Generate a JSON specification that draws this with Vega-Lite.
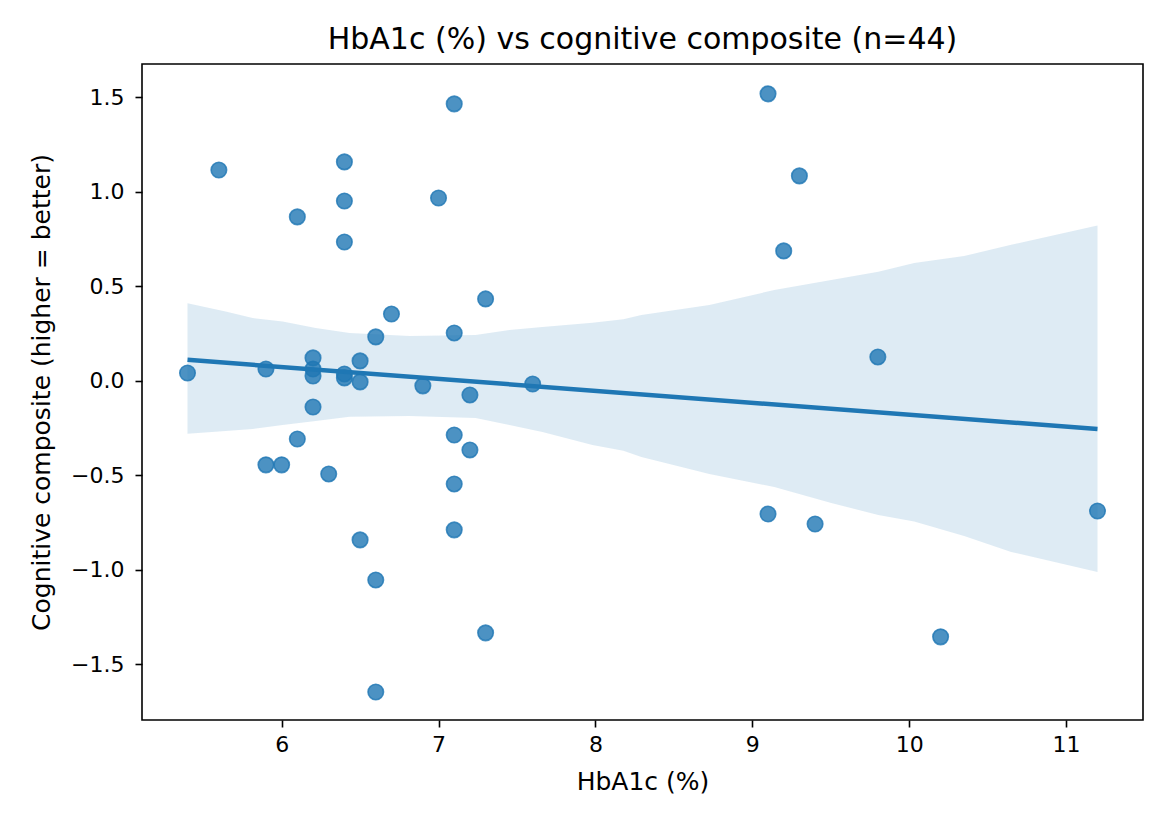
{
  "$schema": "https://vega.github.io/schema/vega-lite/v6.json",
  "autosize": {"type": "none"},
  "padding": {"left": 142, "top": 64, "right": 27, "bottom": 107},
  "width": 1001,
  "height": 656,
  "background": "white",
  "config": {
    "font": "DejaVu Sans",
    "view": {"stroke": "black", "strokeWidth": 1.6},
    "axis": {
      "grid": false,
      "domain": false,
      "tickColor": "black",
      "tickWidth": 1.6,
      "tickSize": 7,
      "labelColor": "black",
      "labelFont": "DejaVu Sans",
      "labelFontSize": 22,
      "titleFont": "DejaVu Sans",
      "titleFontSize": 25,
      "titleFontWeight": "normal",
      "titleColor": "black"
    },
    "title": {"font": "DejaVu Sans", "fontSize": 30, "fontWeight": "normal", "color": "black"}
  },
  "title": {"text": "HbA1c (%) vs cognitive composite (n=44)", "offset": 9},
  "datasets": {
    "points": [
      {"hba1c": 5.4, "cog": 0.042},
      {"hba1c": 5.6, "cog": 1.116},
      {"hba1c": 5.9, "cog": 0.063},
      {"hba1c": 5.9, "cog": -0.444},
      {"hba1c": 6.0, "cog": -0.444},
      {"hba1c": 6.1, "cog": 0.868},
      {"hba1c": 6.1, "cog": -0.307},
      {"hba1c": 6.2, "cog": 0.122},
      {"hba1c": 6.2, "cog": 0.063},
      {"hba1c": 6.2, "cog": 0.026},
      {"hba1c": 6.2, "cog": -0.138},
      {"hba1c": 6.3, "cog": -0.492},
      {"hba1c": 6.4, "cog": 1.159},
      {"hba1c": 6.4, "cog": 0.952},
      {"hba1c": 6.4, "cog": 0.735},
      {"hba1c": 6.4, "cog": 0.037},
      {"hba1c": 6.4, "cog": 0.016},
      {"hba1c": 6.5, "cog": 0.106},
      {"hba1c": 6.5, "cog": -0.005},
      {"hba1c": 6.5, "cog": -0.841},
      {"hba1c": 6.6, "cog": 0.233},
      {"hba1c": 6.6, "cog": -1.053},
      {"hba1c": 6.6, "cog": -1.646},
      {"hba1c": 6.7, "cog": 0.354},
      {"hba1c": 6.9, "cog": -0.026},
      {"hba1c": 7.0, "cog": 0.968},
      {"hba1c": 7.1, "cog": 1.466},
      {"hba1c": 7.1, "cog": 0.254},
      {"hba1c": 7.1, "cog": -0.286},
      {"hba1c": 7.1, "cog": -0.545},
      {"hba1c": 7.1, "cog": -0.788},
      {"hba1c": 7.2, "cog": -0.074},
      {"hba1c": 7.2, "cog": -0.365},
      {"hba1c": 7.3, "cog": 0.434},
      {"hba1c": 7.3, "cog": -1.333},
      {"hba1c": 7.6, "cog": -0.016},
      {"hba1c": 9.1, "cog": 1.519},
      {"hba1c": 9.1, "cog": -0.704},
      {"hba1c": 9.2, "cog": 0.688},
      {"hba1c": 9.3, "cog": 1.085},
      {"hba1c": 9.4, "cog": -0.757},
      {"hba1c": 9.8, "cog": 0.127},
      {"hba1c": 10.2, "cog": -1.354},
      {"hba1c": 11.2, "cog": -0.688}
    ],
    "band": [
      {"hba1c": 5.4, "lo": -0.280, "hi": 0.411},
      {"hba1c": 5.643, "lo": -0.265, "hi": 0.367},
      {"hba1c": 5.815, "lo": -0.254, "hi": 0.333},
      {"hba1c": 6.006, "lo": -0.233, "hi": 0.314},
      {"hba1c": 6.217, "lo": -0.212, "hi": 0.280},
      {"hba1c": 6.433, "lo": -0.190, "hi": 0.254},
      {"hba1c": 6.815, "lo": -0.185, "hi": 0.238},
      {"hba1c": 7.236, "lo": -0.196, "hi": 0.243},
      {"hba1c": 7.452, "lo": -0.233, "hi": 0.270},
      {"hba1c": 7.662, "lo": -0.270, "hi": 0.286},
      {"hba1c": 7.981, "lo": -0.339, "hi": 0.308},
      {"hba1c": 8.178, "lo": -0.370, "hi": 0.326},
      {"hba1c": 8.293, "lo": -0.402, "hi": 0.349},
      {"hba1c": 8.726, "lo": -0.492, "hi": 0.402},
      {"hba1c": 9.14, "lo": -0.561, "hi": 0.481},
      {"hba1c": 9.503, "lo": -0.646, "hi": 0.534},
      {"hba1c": 9.803, "lo": -0.709, "hi": 0.578},
      {"hba1c": 10.032, "lo": -0.744, "hi": 0.624},
      {"hba1c": 10.35, "lo": -0.820, "hi": 0.661},
      {"hba1c": 10.65, "lo": -0.905, "hi": 0.720},
      {"hba1c": 11.2, "lo": -1.011, "hi": 0.822}
    ]
  },
  "layer": [
    {
      "data": {"name": "points"},
      "mark": {"type": "point", "shape": "circle", "filled": true, "size": 240, "fill": "#1f77b4", "fillOpacity": 0.8, "stroke": "#1f77b4", "strokeOpacity": 0.8, "strokeWidth": 1.6},
      "encoding": {
        "x": {"field": "hba1c", "type": "quantitative", "title": "HbA1c (%)",
              "scale": {"domain": [5.11, 11.49], "nice": false, "zero": false},
              "axis": {"values": [6, 7, 8, 9, 10, 11], "format": "d", "labelPadding": 7, "titlePadding": 14}},
        "y": {"field": "cog", "type": "quantitative", "title": "Cognitive composite (higher = better)",
              "scale": {"domain": [-1.794, 1.677], "nice": false, "zero": false},
              "axis": {"values": [-1.5, -1.0, -0.5, 0.0, 0.5, 1.0, 1.5], "format": ".1f", "labelPadding": 11, "titlePadding": 16}}
      }
    },
    {
      "data": {"name": "band"},
      "mark": {"type": "area", "color": "#1f77b4", "opacity": 0.15},
      "encoding": {
        "x": {"field": "hba1c", "type": "quantitative"},
        "y": {"field": "lo", "type": "quantitative"},
        "y2": {"field": "hi"}
      }
    },
    {
      "data": {"name": "points"},
      "transform": [{"regression": "cog", "on": "hba1c"}],
      "mark": {"type": "line", "color": "#1f77b4", "strokeWidth": 4.5},
      "encoding": {
        "x": {"field": "hba1c", "type": "quantitative"},
        "y": {"field": "cog", "type": "quantitative"}
      }
    }
  ]
}
